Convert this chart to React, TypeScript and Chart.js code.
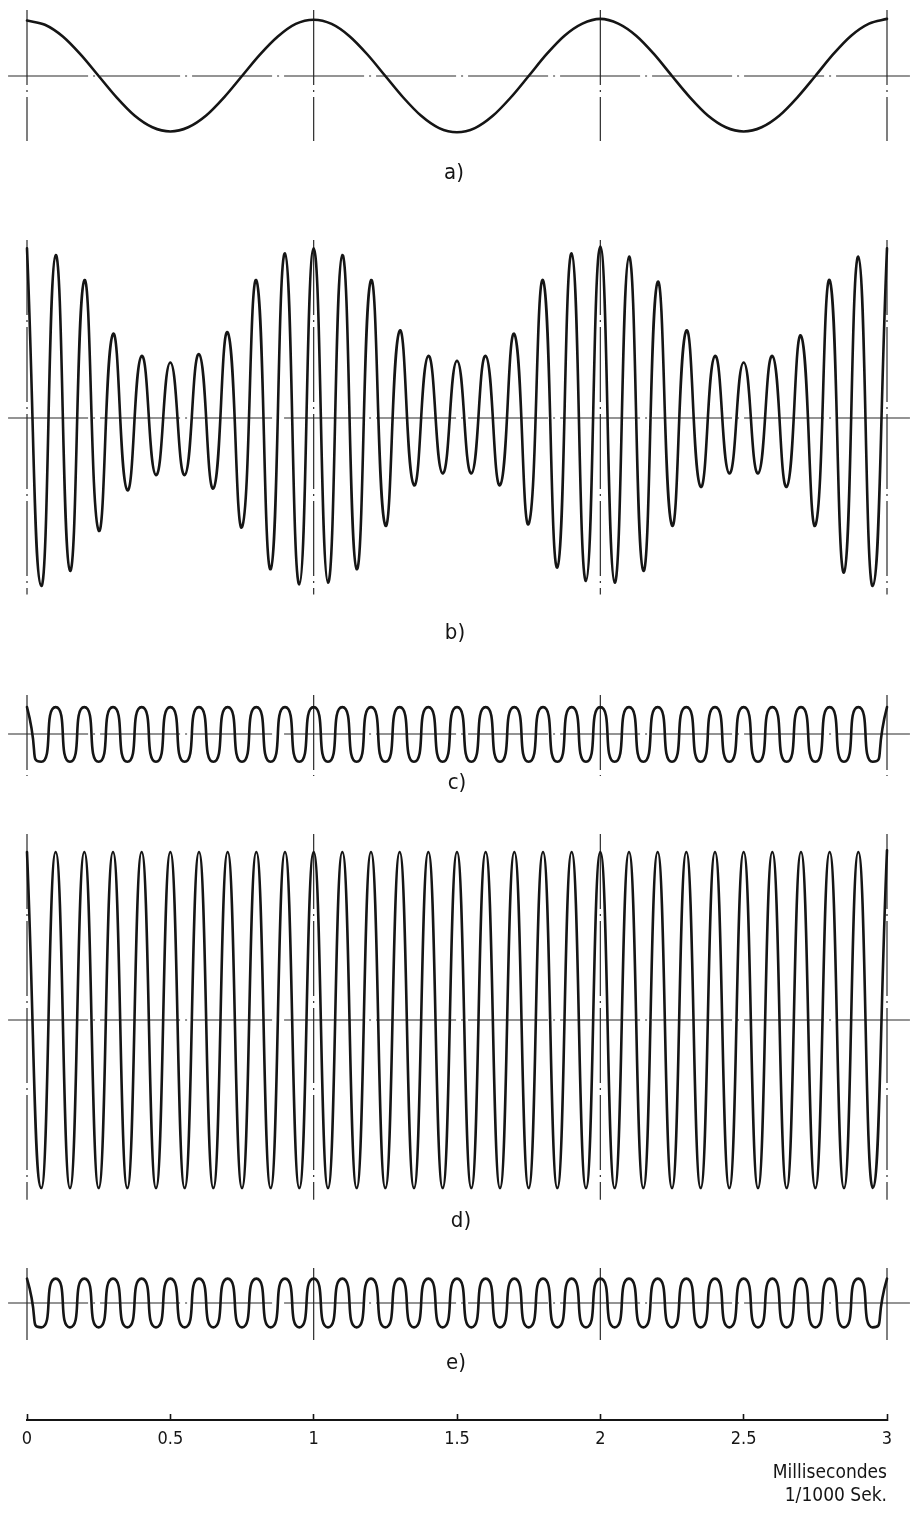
import React, { useEffect, useRef } from "react";
import { Chart, registerables } from "chart.js";

Chart.register(...registerables);

// ---------- DATA ----------
// time (ms) of every extremum of the 10 kHz traces (peaks and troughs)
const HALF_T = [
  0, 0.05, 0.1, 0.15, 0.2, 0.25, 0.3, 0.35, 0.4, 0.45, 0.5, 0.55, 0.6, 0.65, 0.7, 0.75, 0.8, 0.85, 0.9, 0.95,
  1, 1.05, 1.1, 1.15, 1.2, 1.25, 1.3, 1.35, 1.4, 1.45, 1.5, 1.55, 1.6, 1.65, 1.7, 1.75, 1.8, 1.85, 1.9, 1.95,
  2, 2.05, 2.1, 2.15, 2.2, 2.25, 2.3, 2.35, 2.4, 2.45, 2.5, 2.55, 2.6, 2.65, 2.7, 2.75, 2.8, 2.85, 2.9, 2.95, 3,
];

// a) 1 kHz signal, read every 1/16 period
const A_T = [
  0, 0.0625, 0.125, 0.1875, 0.25, 0.3125, 0.375, 0.4375, 0.5, 0.5625, 0.625, 0.6875, 0.75, 0.8125, 0.875, 0.9375,
  1, 1.0625, 1.125, 1.1875, 1.25, 1.3125, 1.375, 1.4375, 1.5, 1.5625, 1.625, 1.6875, 1.75, 1.8125, 1.875, 1.9375,
  2, 2.0625, 2.125, 2.1875, 2.25, 2.3125, 2.375, 2.4375, 2.5, 2.5625, 2.625, 2.6875, 2.75, 2.8125, 2.875, 2.9375, 3,
];
const A_V = [
  3.3, 3.05, 2.35, 1.27, 0, -1.27, -2.35, -3.05, -3.3, -3.05, -2.35, -1.27, 0, 1.27, 2.35, 3.1,
  3.35, 3.1, 2.37, 1.28, 0, -1.28, -2.37, -3.1, -3.35, -3.1, -2.37, -1.28, 0, 1.3, 2.4, 3.12,
  3.4, 3.12, 2.4, 1.3, 0, -1.27, -2.35, -3.05, -3.3, -3.05, -2.35, -1.27, 0, 1.3, 2.4, 3.12, 3.4,
];

// b) modulated wave, extremum values
const B_V = [
  10.1, -10.0, 9.7, -9.1, 8.2, -6.7, 5.0, -4.3, 3.7, -3.4, 3.3, -3.4, 3.8, -4.2, 5.1, -6.5, 8.2, -9.0, 9.8, -9.9,
  10.1, -9.8, 9.7, -9.0, 8.2, -6.4, 5.2, -4.0, 3.7, -3.3, 3.4, -3.3, 3.7, -4.0, 5.0, -6.3, 8.2, -8.9, 9.8, -9.7,
  10.2, -9.8, 9.6, -9.1, 8.1, -6.4, 5.2, -4.1, 3.7, -3.3, 3.3, -3.3, 3.7, -4.1, 4.9, -6.4, 8.2, -9.2, 9.6, -10.0, 10.1,
];

// c) small wave
const C_V = [
  1.6, -1.65, 1.6, -1.65, 1.6, -1.65, 1.6, -1.65, 1.6, -1.65, 1.6, -1.65, 1.6, -1.65, 1.6, -1.65, 1.6, -1.65, 1.6, -1.65,
  1.6, -1.65, 1.6, -1.65, 1.6, -1.65, 1.6, -1.65, 1.6, -1.65, 1.6, -1.65, 1.6, -1.65, 1.6, -1.65, 1.6, -1.65, 1.6, -1.65,
  1.6, -1.65, 1.6, -1.65, 1.6, -1.65, 1.6, -1.65, 1.6, -1.65, 1.6, -1.65, 1.6, -1.65, 1.6, -1.65, 1.6, -1.65, 1.6, -1.65, 1.6,
];

// d) carrier
const D_V = [
  10.0, -10.0, 10.0, -10.0, 10.0, -10.0, 10.0, -10.0, 10.0, -10.0, 10.0, -10.0, 10.0, -10.0, 10.0, -10.0, 10.0, -10.0, 10.0, -10.0,
  10.0, -10.0, 10.0, -10.0, 10.0, -10.0, 10.0, -10.0, 10.0, -10.0, 10.0, -10.0, 10.0, -10.0, 10.0, -10.0, 10.0, -10.0, 10.0, -10.0,
  10.0, -10.0, 10.0, -10.0, 10.0, -10.0, 10.0, -10.0, 10.0, -10.0, 10.0, -10.0, 10.0, -10.0, 10.0, -10.0, 10.0, -10.0, 10.0, -10.0, 10.1,
];

// e) small wave
const E_V = [
  1.45, -1.45, 1.45, -1.45, 1.45, -1.45, 1.45, -1.45, 1.45, -1.45, 1.45, -1.45, 1.45, -1.45, 1.45, -1.45, 1.45, -1.45, 1.45, -1.45,
  1.45, -1.45, 1.45, -1.45, 1.45, -1.45, 1.45, -1.45, 1.45, -1.45, 1.45, -1.45, 1.45, -1.45, 1.45, -1.45, 1.45, -1.45, 1.45, -1.45,
  1.45, -1.45, 1.45, -1.45, 1.45, -1.45, 1.45, -1.45, 1.45, -1.45, 1.45, -1.45, 1.45, -1.45, 1.45, -1.45, 1.45, -1.45, 1.45, -1.45, 1.45,
];

const GRID_T = [0, 1, 2, 3]; // dash-dot verticals
const X_TICK_LABELS = ["0", "0.5", "1", "1.5", "2", "2.5", "3"];
const AXIS_TITLE = ["Millisecondes", "1/1000 Sek."];
const PANEL_LABELS = ["a)", "b)", "c)", "d)", "e)"];

// ---------- LAYOUT / STYLE ----------
const W = 910;
const H = 1514;
const X_LEFT = 27; // pixel of t = 0
const X_RIGHT = 887; // pixel of t = 3
const AREA_BOTTOM = 1420; // axis line
const PX_PER_UNIT = 16.8;
const GUIDE_X = [-0.066, 3.08];
const INK = "#151515";
const FONT_NARROW = "'Liberation Sans Narrow', 'DejaVu Sans Condensed', sans-serif";

const PANELS = [
  { id: "ya", t: A_T, v: A_V, center: 76, top: 3.93, bottom: -3.87, tension: 0, mono: true, label: [454, 172] },
  { id: "yb", t: HALF_T, v: B_V, center: 418, top: 10.6, bottom: -10.5, tension: 0.5, mono: false, label: [455, 632] },
  { id: "yc", t: HALF_T, v: C_V, center: 734, top: 2.32, bottom: -2.5, tension: 0.85, mono: false, label: [457, 782] },
  { id: "yd", t: HALF_T, v: D_V, center: 1020, top: 11.07, bottom: -10.7, tension: 0.5, mono: false, label: [461, 1220] },
  { id: "ye", t: HALF_T, v: E_V, center: 1303, top: 2.08, bottom: -2.2, tension: 0.85, mono: false, label: [456, 1362] },
];

export default function App() {
  const ref = useRef<HTMLCanvasElement>(null);

  useEffect(() => {
    const canvas = ref.current;
    if (!canvas) return;

    const scales: any = {
      x: {
        type: "linear",
        position: "bottom",
        min: 0,
        max: 3,
        afterFit: (scale: any) => {
          scale.height = H - AREA_BOTTOM;
        },
        grid: {
          display: true,
          drawOnChartArea: false,
          drawTicks: true,
          tickLength: -6,
          tickWidth: 1.6,
          tickColor: INK,
          color: INK,
        },
        border: { display: true, width: 2, color: INK },
        ticks: {
          stepSize: 0.5,
          autoSkip: false,
          maxRotation: 0,
          padding: 15,
          color: INK,
          font: { family: FONT_NARROW, size: 18, lineHeight: 1.2 },
          callback: (value: any, index: number) => X_TICK_LABELS[index] ?? String(value),
        },
        title: {
          display: true,
          text: AXIS_TITLE,
          align: "end",
          color: INK,
          font: { family: "'DejaVu Sans Condensed', sans-serif", size: 19, lineHeight: 23 / 19 },
          padding: { top: 0, bottom: 6.5 },
        },
      },
    };

    const datasets: any[] = [];
    PANELS.forEach((p) => {
      scales[p.id] = {
        type: "linear",
        display: false,
        min: -(AREA_BOTTOM - p.center) / PX_PER_UNIT,
        max: p.center / PX_PER_UNIT,
      };
      datasets.push({
        data: p.t.map((t, i) => ({ x: t, y: p.v[i] })),
        yAxisID: p.id,
        borderColor: INK,
        borderWidth: 2.6,
        pointRadius: 0,
        fill: false,
        clip: false,
        tension: p.mono ? 0.4 : p.tension,
        cubicInterpolationMode: p.mono ? "monotone" : "default",
        borderJoinStyle: "round",
        borderCapStyle: "round",
      });
    });
    PANELS.forEach((p) => {
      datasets.push({
        data: [
          { x: GUIDE_X[0], y: 0 },
          { x: GUIDE_X[1], y: 0 },
        ],
        yAxisID: p.id,
        borderColor: "#2a2a2a",
        borderWidth: 1.2,
        borderDash: [80, 5, 2, 5],
        pointRadius: 0,
        fill: false,
        clip: false,
        tension: 0,
      });
      GRID_T.forEach((t) => {
        datasets.push({
          data: [
            { x: t, y: p.top },
            { x: t, y: p.bottom },
          ],
          yAxisID: p.id,
          borderColor: "#2a2a2a",
          borderWidth: 1.2,
          borderDash: [75, 5, 2, 5],
          pointRadius: 0,
          fill: false,
          clip: false,
          tension: 0,
        });
      });
    });

    const chart = new Chart(canvas, {
      type: "line",
      data: { datasets },
      options: {
        animation: false,
        responsive: false,
        devicePixelRatio: 1,
        events: [],
        layout: { padding: { left: X_LEFT, right: W - X_RIGHT, top: 0, bottom: 0 } },
        plugins: { legend: { display: false }, tooltip: { enabled: false }, title: { display: false } },
        scales,
      },
    });
    return () => chart.destroy();
  }, []);

  return (
    <div style={{ position: "absolute", left: 0, top: 0, width: W, height: H, background: "#fff", overflow: "hidden" }}>
      <canvas ref={ref} width={W} height={H} style={{ position: "absolute", left: 0, top: 0, display: "block" }} />
      {PANELS.map((p, i) => (
        <div
          key={p.id}
          style={{
            position: "absolute",
            left: p.label[0],
            top: p.label[1],
            transform: "translate(-50%, -50%)",
            fontFamily: "'DejaVu Sans Condensed', sans-serif",
            fontSize: 22,
            lineHeight: 1,
            color: INK,
            whiteSpace: "nowrap",
          }}
        >
          {PANEL_LABELS[i]}
        </div>
      ))}
    </div>
  );
}
